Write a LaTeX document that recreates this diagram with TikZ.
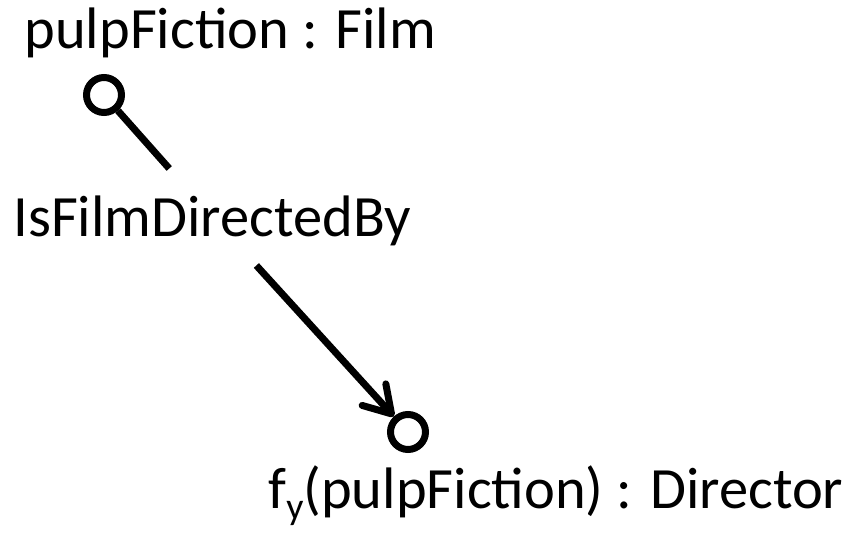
\documentclass[tikz,border=0pt]{standalone}
\usepackage{fontspec}
\setmainfont{Carlito}
\usetikzlibrary{arrows.meta}

\begin{document}
\begin{tikzpicture}[x=1bp,y=-1bp,every path/.style={line width=7bp,>={Straight Barb[round,length=26bp,width=32bp]}},
  every node/.style={inner sep=0pt,font=\fontsize{58.5bp}{70bp}\selectfont}]
\useasboundingbox (0,0) rectangle (855,535);
\node[draw,circle,minimum size=35bp] (f0) at (104,95)  {};
\node[draw,circle,minimum size=35bp] (d0) at (408,432) {};
\node[anchor=base west]               (f1) at (21,49)   {pulpFiction : Film};
\node[anchor=base west,text height=65bp,text depth=25bp] (r0) at (10,237) {IsFilmDirectedBy};
\node[anchor=base west]               (d1) at (265,508) {f\raisebox{-11bp}{\fontsize{38bp}{38bp}\selectfont y}(pulpFiction) : Director};
\draw                (f0) -- (r0);
\draw[->]            (r0) -- (d0);
\end{tikzpicture}
\end{document}
